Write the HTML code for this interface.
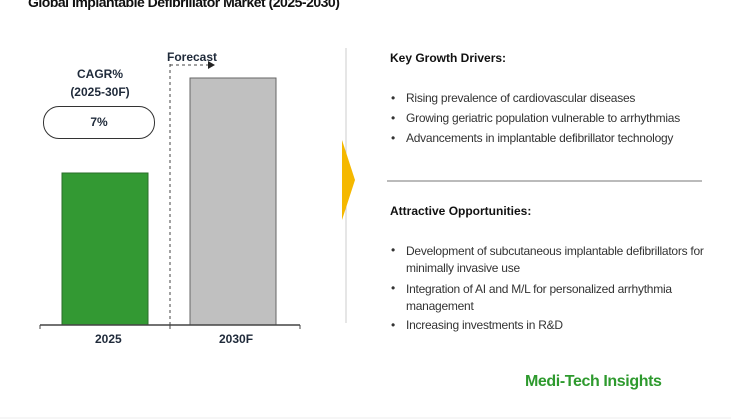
<!DOCTYPE html><html><head><style>
body{margin:0;width:731px;height:420px;background:#fff;font-family:"Liberation Sans",Arial,sans-serif;position:relative;overflow:hidden;color:#1f2a3a}
.a{position:absolute;white-space:nowrap}
.b{font-weight:bold}
.t{font-size:12px;color:#333;letter-spacing:-0.25px}
.d{font-size:12px;color:#333}
</style></head><body>
<div class="a b" style="left:28px;top:-6px;font-size:14px;color:#111;letter-spacing:-0.5px">Global Implantable Defibrillator Market (2025-2030)</div>
<div class="a b" style="left:60px;top:67px;width:80px;text-align:center;font-size:12px">CAGR%</div>
<div class="a b" style="left:60px;top:85px;width:80px;text-align:center;font-size:12px">(2025-30F)</div>
<div class="a" style="left:43px;top:106px;width:110px;height:31px;border:1px solid #333;border-radius:16px"></div>
<div class="a b" style="left:43px;top:115px;width:112px;text-align:center;font-size:12px">7%</div>
<div class="a b" style="left:167px;top:50px;font-size:12px">Forecast</div>
<svg class="a" style="left:0;top:0" width="731" height="420">
<line x1="170" y1="64" x2="170" y2="325" stroke="#444" stroke-dasharray="3,3"/>
<line x1="170" y1="65" x2="209" y2="65" stroke="#444" stroke-dasharray="3,3"/>
<polygon points="208,61 215,65 208,69" fill="#222"/>
<rect x="62" y="173" width="86" height="152" fill="#339933" stroke="#2a6e2a"/>
<rect x="190" y="78" width="86" height="247" fill="#c0c0c0" stroke="#666"/>
<line x1="40" y1="325" x2="300" y2="325" stroke="#444" stroke-width="1.5"/>
<line x1="40" y1="325" x2="40" y2="329" stroke="#444"/>
<line x1="170" y1="325" x2="170" y2="329" stroke="#444"/>
<line x1="300" y1="325" x2="300" y2="329" stroke="#444"/>
<line x1="346" y1="48" x2="346" y2="323" stroke="#ccc"/>
<polygon points="342,140 355,180 342,220" fill="#f5b800"/>
<line x1="387" y1="181" x2="702" y2="181" stroke="#bbb" stroke-width="2"/>
<line x1="0" y1="418" x2="731" y2="418" stroke="#eee"/>
</svg>
<div class="a b" style="left:95px;top:332px;font-size:12px">2025</div>
<div class="a b" style="left:219px;top:332px;font-size:12px">2030F</div>
<div class="a b" style="left:390px;top:51px;font-size:12px;color:#111">Key Growth Drivers:</div>
<div class="a d" style="left:391px;top:91px">•</div><div class="a t" style="left:406px;top:91px">Rising prevalence of cardiovascular diseases</div>
<div class="a d" style="left:391px;top:111px">•</div><div class="a t" style="left:406px;top:111px">Growing geriatric population vulnerable to arrhythmias</div>
<div class="a d" style="left:391px;top:131px">•</div><div class="a t" style="left:406px;top:131px">Advancements in implantable defibrillator technology</div>
<div class="a b" style="left:390px;top:204px;font-size:12px;color:#111">Attractive Opportunities:</div>
<div class="a d" style="left:391px;top:243px">•</div><div class="a t" style="left:406px;top:243px;line-height:17px">Development of subcutaneous implantable defibrillators for<br>minimally invasive use</div>
<div class="a d" style="left:391px;top:281px">•</div><div class="a t" style="left:406px;top:281px;line-height:17px">Integration of AI and M/L for personalized arrhythmia<br>management</div>
<div class="a d" style="left:391px;top:318px">•</div><div class="a t" style="left:406px;top:318px">Increasing investments in R&amp;D</div>
<div class="a b" style="left:525px;top:373px;font-size:16px;color:#2e9a2e;letter-spacing:-0.4px">Medi-Tech Insights</div>
</body></html>
